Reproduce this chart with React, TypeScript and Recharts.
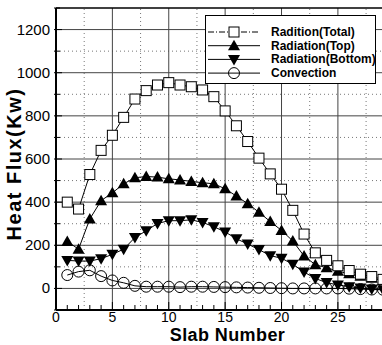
import {
  Legend,
  Line,
  LineChart,
  ReferenceLine,
  XAxis,
  YAxis,
} from "recharts";

const slabs = [
  1, 2, 3, 4, 5, 6, 7, 8, 9, 10, 11, 12, 13, 14, 15, 16, 17, 18, 19, 20, 21,
  22, 23, 24, 25, 26, 27, 28, 29,
];
const radTotal = [
  400, 368, 528, 640, 710, 793, 878, 917, 943, 954, 943, 935, 920, 889, 823,
  754, 681, 604, 531, 460, 362, 252, 165, 130, 105, 83, 66, 55, 42,
];
const radTop = [
  218, 182, 322, 407, 443, 485, 513, 519, 516, 508, 503, 496, 490, 485, 462,
  428, 393, 353, 310, 269, 220, 150, 110, 96, 80, 68, 56, 47, 37,
];
const radBottom = [
  130, 127, 127, 138, 158, 182, 236, 267, 301, 314, 314, 318, 306, 286, 262,
  230, 206, 180, 152, 140, 112, 76, 46, 27, 16, 8, 2, -3, -6,
];
const convection = [
  62, 78, 84, 57, 37, 26, 12, 8, 8, 8, 6, 8, 8, 7, 6, 5, 4, 3, 2, 1, 0, 0, 0,
  0, 0, -1, -3, -5, -6,
];

const xTicks = [
  0, 1, 2, 3, 4, 5, 6, 7, 8, 9, 10, 11, 12, 13, 14, 15, 16, 17, 18, 19, 20, 21,
  22, 23, 24, 25, 26, 27, 28, 29,
];
const xLabels = [0, 5, 10, 15, 20, 25];
const yTicks = [
  -100, 0, 100, 200, 300, 400, 500, 600, 700, 800, 900, 1000, 1100, 1200, 1300,
];
const yLabels = [0, 200, 400, 600, 800, 1000, 1200];
const xMajorGrid = [5, 10, 15, 20, 25];
const xMinorGrid = [2.5, 7.5, 12.5, 17.5, 22.5, 27.5];
const yMajorGrid = [0, 200, 400, 600, 800, 1000, 1200];
const yMinorGrid = [100, 300, 500, 700, 900, 1100];

const legendItems = [
  { name: "Radition(Total)", marker: "square", dash: "6 2 1 2" },
  { name: "Radiation(Top)", marker: "up", dash: "" },
  { name: "Radiation(Bottom)", marker: "down", dash: "" },
  { name: "Convection", marker: "circle", dash: "" },
];

const data = slabs.map((s, i) => ({
  slab: s,
  total: radTotal[i],
  top: radTop[i],
  bottom: radBottom[i],
  conv: convection[i],
}));

const PLOT_LEFT = 56;
const PLOT_BOTTOM = 310;
const font = '"Liberation Sans", Arial, sans-serif';

const marker = (kind: string, cx: number, cy: number, key?: any) => {
  if (kind === "square")
    return (
      <rect key={key} x={cx - 5} y={cy - 5} width={10} height={10} fill="#fff" stroke="#000" strokeWidth={1} />
    );
  if (kind === "up")
    return (
      <polygon key={key} points={`${cx},${cy - 6} ${cx - 6},${cy + 4.5} ${cx + 6},${cy + 4.5}`} fill="#000" />
    );
  if (kind === "down")
    return (
      <polygon key={key} points={`${cx},${cy + 6} ${cx - 6},${cy - 4.5} ${cx + 6},${cy - 4.5}`} fill="#000" />
    );
  return <circle key={key} cx={cx} cy={cy} r={5.5} fill="none" stroke="#000" strokeWidth={1} />;
};

const dotFor = (kind: string) => (p: any) => marker(kind, p.cx, p.cy, p.key ?? p.index);

const YTick = (p: any) => {
  const v = p.payload.value;
  const major = yLabels.includes(v);
  const y = p.y;
  return (
    <g>
      <line x1={PLOT_LEFT - 2} x2={PLOT_LEFT + (major ? 6 : 4)} y1={y} y2={y} stroke="#000" />
      {major && (
        <text x={PLOT_LEFT - 6} y={y + 5} textAnchor="end" fontSize={15} fontFamily={font} fill="#000">
          {v}
        </text>
      )}
    </g>
  );
};

const XTick = (p: any) => {
  const v = p.payload.value;
  const major = xLabels.includes(v);
  const x = p.x;
  return (
    <g>
      <line x1={x} x2={x} y1={PLOT_BOTTOM} y2={PLOT_BOTTOM - (major ? 8 : 5)} stroke="#000" />
      {major && (
        <text x={x} y={PLOT_BOTTOM + 12} textAnchor="middle" fontSize={14} fontFamily={font} fill="#000">
          {v}
        </text>
      )}
    </g>
  );
};

const LegendBox = () => (
  <svg width={171} height={69} style={{ display: "block" }}>
    <rect x={0.5} y={0.5} width={170} height={68} fill="#fff" stroke="#000" />
    {legendItems.map((it, i) => {
      const y = 17 + i * 13.7;
      return (
        <g key={it.name}>
          <line x1={3} x2={55} y1={y} y2={y} stroke="#000" strokeDasharray={it.dash || undefined} />
          {marker(it.marker, 29, y)}
          <text x={66} y={y + 4} fontSize={12} fontWeight="bold" fontFamily={font} fill="#000">
            {it.name}
          </text>
        </g>
      );
    })}
  </svg>
);

const App = () => {
  return (
    <div style={{ position: "absolute", left: 0, top: 0, width: 382, height: 345, overflow: "hidden", background: "#fff" }}>
      <LineChart width={384} height={345} data={data} margin={{ top: 8, right: 1, left: 0, bottom: 0 }}>
        {yMinorGrid.map((v) => (
          <ReferenceLine key={"ym" + v} y={v} stroke="#777" strokeDasharray="1 3" />
        ))}
        {xMinorGrid.map((v) => (
          <ReferenceLine key={"xm" + v} x={v} stroke="#777" strokeDasharray="1 3" />
        ))}
        {yMajorGrid.map((v) => (
          <ReferenceLine key={"yM" + v} y={v} stroke="#444" />
        ))}
        {xMajorGrid.map((v) => (
          <ReferenceLine key={"xM" + v} x={v} stroke="#444" />
        ))}
        <ReferenceLine y={1300} stroke="#000" strokeWidth={1.5} />
        <ReferenceLine x={29} stroke="#000" strokeWidth={1.5} />
        <XAxis
          dataKey="slab"
          type="number"
          domain={[0, 29]}
          ticks={xTicks}
          interval={0}
          height={35}
          tickLine={false}
          axisLine={{ stroke: "#000", strokeWidth: 2 }}
          tick={<XTick />}
          label={{
            value: "Slab Number",
            position: "insideBottom",
            dy: 1,
            dx: 8,
            style: { fontSize: 18, fontWeight: "bold", fontFamily: font, fill: "#000", letterSpacing: 0.4 },
          }}
        />
        <YAxis
          type="number"
          domain={[-100, 1300]}
          ticks={yTicks}
          interval={0}
          width={56}
          tickLine={false}
          axisLine={{ stroke: "#000", strokeWidth: 2 }}
          tick={<YTick />}
          label={{
            value: "Heat Flux(Kw)",
            angle: -90,
            position: "insideLeft",
            dx: 9,
            dy: 5,
            style: { fontSize: 20, fontWeight: "bold", fontFamily: font, fill: "#000", letterSpacing: 1.5, textAnchor: "middle" },
          }}
        />
        <Legend
          layout="vertical"
          align="center"
          verticalAlign="middle"
          content={<LegendBox />}
          wrapperStyle={{ left: 205, top: 15, width: 171, height: 69 }}
        />
        <Line dataKey="conv" name="Convection" stroke="#000" strokeWidth={1} dot={dotFor("circle")} isAnimationActive={false} />
        <Line dataKey="bottom" name="Radiation(Bottom)" stroke="#000" strokeWidth={1} dot={dotFor("down")} isAnimationActive={false} />
        <Line dataKey="top" name="Radiation(Top)" stroke="#000" strokeWidth={1} dot={dotFor("up")} isAnimationActive={false} />
        <Line dataKey="total" name="Radition(Total)" stroke="#000" strokeWidth={1} dot={dotFor("square")} isAnimationActive={false} />
      </LineChart>
    </div>
  );
};

export default App;
